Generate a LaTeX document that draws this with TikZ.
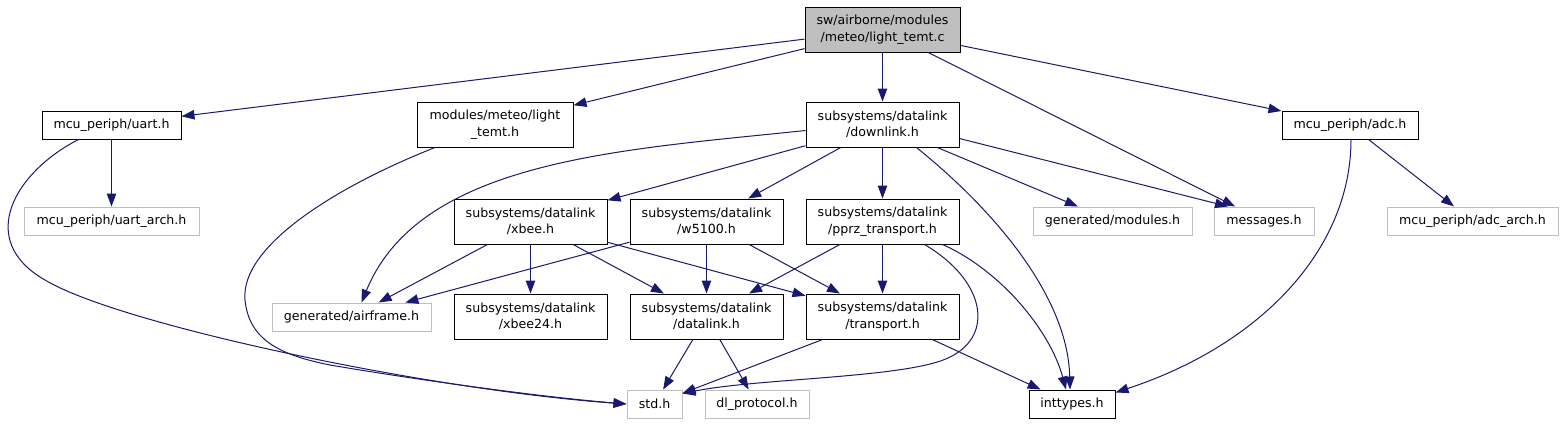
\documentclass[tikz,border=0pt]{standalone}
\usepackage{fontspec}
\setmainfont{DejaVu Sans}
\usetikzlibrary{
  arrows.meta,
  positioning
}
\definecolor{dgedge}{HTML}{191970}
\definecolor{dggray}{HTML}{BFBFBF}

\begin{document}
\begin{tikzpicture}[x=1pt, y=-1pt,
      hdr/.style={
        rectangle, draw=black, line width=1pt, fill=white,
        minimum width=153pt, minimum height=45pt, inner sep=0pt,
        font=\fontsize{12.6}{16.5}\selectfont, align=center
      },
      hdrone/.style={hdr, minimum height=28pt},
      ext/.style={hdrone, draw=dggray},
      incl/.style={-{Triangle[length=13pt, width=9.5pt]}, line width=1pt, dgedge}
    ]
      \fill[white] (0,0) rectangle (1564,424);
      \useasboundingbox (0,0) rectangle (1564,424);

      % Source file
      \node[hdr, fill=dggray, minimum width=155pt] (root) at (882.5,29.5) {sw/airborne/modules\\/meteo/light\_temt.c};

      % Direct includes
      \node[hdr, below=49pt of root] (downlink) {subsystems/datalink\\/downlink.h};
      \node[hdrone, minimum width=139pt] (uart) at (111.5,125) {mcu\_periph/uart.h};
      \node[hdr, minimum width=156pt] (light) at (495,124.5) {modules/meteo/light\\\_temt.h};
      \node[hdrone, minimum width=136pt] (adc) at (1350,125) {mcu\_periph/adc.h};

      % Datalink headers
      \node[hdr, below=51pt of downlink] (pprz) {subsystems/datalink\\/pprz\_transport.h};
      \node[hdr, left=22pt of pprz] (w5100) {subsystems/datalink\\/w5100.h};
      \node[hdr, left=22pt of w5100] (xbee) {subsystems/datalink\\/xbee.h};
      \node[hdr, below=49pt of pprz] (transport) {subsystems/datalink\\/transport.h};
      \node[hdr, below=49pt of w5100] (datalink) {subsystems/datalink\\/datalink.h};
      \node[hdr, below=49pt of xbee] (xbee24) {subsystems/datalink\\/xbee24.h};

      % Headers not documented
      \node[ext, minimum width=175pt] (uartarch) at (111.5,221) {mcu\_periph/uart\_arch.h};
      \node[ext, minimum width=159pt] (modules) at (1112.5,221) {generated/modules.h};
      \node[ext, minimum width=100pt] (messages) at (1264,221) {messages.h};
      \node[ext, minimum width=171pt] (adcarch) at (1472.5,221) {mcu\_periph/adc\_arch.h};
      \node[ext, minimum width=159pt] (airframe) at (351.5,317) {generated/airframe.h};
      \node[ext, minimum width=55pt] (std) at (654.5,404) {std.h};
      \node[ext, minimum width=104pt] (dlproto) at (757,404) {dl\_protocol.h};
      \node[hdrone, minimum width=86pt] (inttypes) at (1072,404) {inttypes.h};

      % Includes of the source file
      \draw[incl] (root) -- (uart);
      \draw[incl] (root) -- (light);
      \draw[incl] (root) -- (downlink);
      \draw[incl] (root) -- (messages);
      \draw[incl] (root) -- (adc);

      % uart.h and light_temt.h
      \draw[incl] (uart) -- (uartarch);
      \draw[incl] ([xshift=-33pt]uart.south) .. controls (15,172) and (-25,240) .. (45,280)
        .. controls (120,325) and (430,390) .. (std.west);
      \draw[incl] ([xshift=-60pt]light.south) .. controls (340,185) and (240,245) .. (245,300)
        .. controls (249,340) and (280,355) .. (330,365)
        .. controls (400,377) and (530,396) .. (std.west);

      % adc.h
      \draw[incl] (adc) -- (adcarch);
      \draw[incl] ([xshift=1pt]adc.south) .. controls (1351,250) and (1260,345) .. ([yshift=-3pt]inttypes.north east);

      % downlink.h
      \draw[incl] ([yshift=-6pt]downlink.west) .. controls (620,150) and (420,160) .. ([xshift=10pt]airframe.north);
      \draw[incl] (downlink) -- (xbee);
      \draw[incl] (downlink) -- (w5100);
      \draw[incl] (downlink) -- (pprz);
      \draw[incl] ([xshift=34pt]downlink.south) .. controls (1000,215) and (1068,300) .. ([xshift=-2pt]inttypes.north);
      \draw[incl] (downlink) -- (modules);
      \draw[incl] ([yshift=-14pt]downlink.east) -- ([xshift=-36pt]messages.north);

      % xbee.h and w5100.h
      \draw[incl] (xbee) -- (airframe);
      \draw[incl] (xbee) -- (xbee24);
      \draw[incl] (xbee) -- (datalink);
      \draw[incl] (xbee) -- (transport);
      \draw[incl] (w5100) -- (airframe);
      \draw[incl] (w5100) -- (datalink);
      \draw[incl] (w5100) -- (transport);

      % pprz_transport.h
      \draw[incl] (pprz) -- (datalink);
      \draw[incl] (pprz) -- (transport);
      \draw[incl] ([xshift=42pt]pprz.south) .. controls (985,280) and (995,335) .. (950,357)
        .. controls (910,378) and (760,378) .. ([yshift=-4pt]std.north east);
      \draw[incl] ([xshift=60pt]pprz.south) .. controls (1000,270) and (1050,330) .. ([xshift=-6pt]inttypes.north);

      % datalink.h and transport.h
      \draw[incl] (datalink) -- (std);
      \draw[incl] (datalink) -- (dlproto);
      \draw[incl] (transport) -- (std);
      \draw[incl] (transport) -- (inttypes);
    \end{tikzpicture}
\end{document}
